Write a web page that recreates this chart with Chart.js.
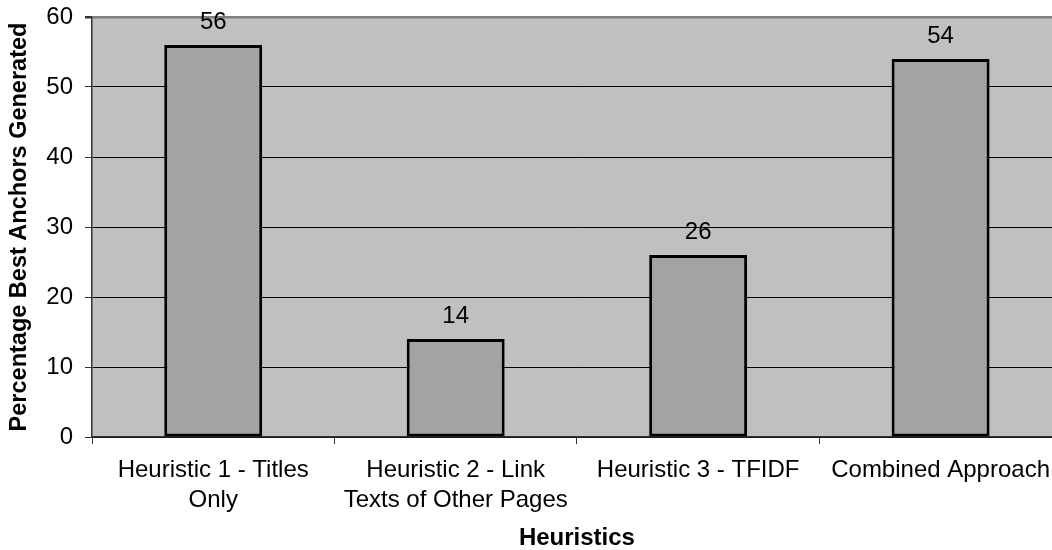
<!DOCTYPE html>
<html>
<head>
<meta charset="utf-8">
<script src="https://cdn.jsdelivr.net/npm/chart.js@4/dist/chart.umd.min.js"></script>
<style>
  html, body { margin: 0; padding: 0; background: #fff; overflow: hidden; }
  #wrap { width: 1062px; height: 550px; }
</style>
</head>
<body>
<div id="wrap"><canvas id="c" width="1062" height="550"></canvas></div>
<script>
// Categories and their percentages
const categories = [
  ["Heuristic 1 - Titles", "Only"],
  ["Heuristic 2 - Link", "Texts of Other Pages"],
  ["Heuristic 3 - TFIDF"],
  ["Combined Approach"]
];
const percentages = [56, 14, 26, 54];
const yTicks = [0, 10, 20, 30, 40, 50, 60];

const FONT = "'Liberation Sans', Arial, Helvetica, sans-serif";

// Grey plot background
const plotBackground = {
  id: 'plotBackground',
  beforeDraw(chart) {
    const { ctx, chartArea: a } = chart;
    ctx.save();
    ctx.fillStyle = '#C0C0C0';
    ctx.fillRect(a.left, a.top, a.right - a.left, a.bottom - a.top);
    ctx.restore();
  }
};

// Value written above each bar
const valueLabels = {
  id: 'valueLabels',
  afterDatasetsDraw(chart) {
    const { ctx } = chart;
    const meta = chart.getDatasetMeta(0);
    const data = chart.data.datasets[0].data;
    ctx.save();
    ctx.font = '24px ' + FONT;
    ctx.fillStyle = '#000';
    ctx.textAlign = 'center';
    ctx.textBaseline = 'middle';
    meta.data.forEach((bar, i) => {
      ctx.fillText(String(data[i]), bar.x, bar.y - 23);
    });
    ctx.restore();
  }
};

new Chart(document.getElementById('c'), {
  type: 'bar',
  data: {
    labels: categories,
    datasets: [{
      data: percentages,
      backgroundColor: '#A3A3A3',
      borderColor: '#000',
      borderWidth: 3,
      borderSkipped: false,
      categoryPercentage: 1,
      barPercentage: 0.404
    }]
  },
  options: {
    responsive: false,
    animation: false,
    devicePixelRatio: 1,
    layout: { padding: { top: 17, left: 0, right: 0, bottom: 0 } },
    plugins: {
      legend: { display: false },
      tooltip: { enabled: false }
    },
    scales: {
      x: {
        offset: true,
        afterFit(scale) { scale.height = 113; },
        grid: {
          offset: true,
          drawOnChartArea: false,
          drawTicks: true,
          tickLength: 7,
          color: '#333',
          lineWidth: 1
        },
        border: { display: true, color: '#333', width: 1.5 },
        ticks: {
          color: '#000',
          font: { family: FONT, size: 24, lineHeight: 1.22 },
          padding: 12,
          maxRotation: 0,
          autoSkip: false
        },
        title: {
          display: true,
          text: 'Heuristics',
          color: '#000',
          font: { family: FONT, size: 24, weight: 'bold', lineHeight: 1 },
          padding: { top: 0, bottom: 0 }
        }
      },
      y: {
        min: 0,
        max: 60,
        afterFit(scale) {
          scale.width = 92;
          scale.paddingTop = 0;
          scale.paddingBottom = 0;
        },
        afterBuildTicks(scale) { scale.ticks = yTicks.map(v => ({ value: v })); },
        grid: {
          color: ctx => (ctx.tick && ctx.tick.value === 60 ? '#808080' : '#000'),
          lineWidth: ctx => (ctx.tick && ctx.tick.value === 60 ? 2.5 : 1),
          tickColor: '#333',
          tickLength: 7,
          drawTicks: true
        },
        border: { display: true, color: '#333', width: 1.5 },
        ticks: {
          color: '#000',
          font: { family: FONT, size: 24 },
          padding: 12
        },
        title: {
          display: true,
          text: 'Percentage Best Anchors Generated',
          color: '#000',
          font: { family: FONT, size: 23.5, weight: 'bold', lineHeight: 1.2 },
          padding: { top: 5, bottom: 0 }
        }
      }
    }
  },
  plugins: [plotBackground, valueLabels]
});
</script>
</body>
</html>
